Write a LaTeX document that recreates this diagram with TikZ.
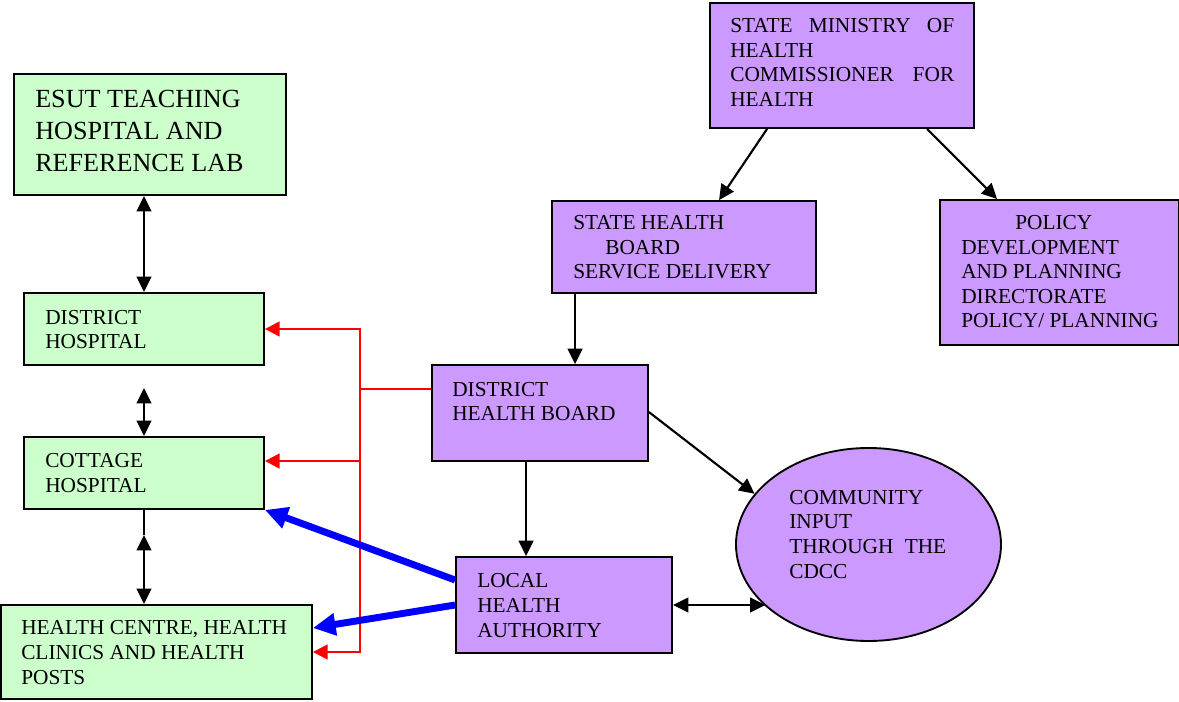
\documentclass[tikz,border=0pt]{standalone}
\usepackage{fontspec}
\setmainfont{Liberation Serif}
\usetikzlibrary{arrows.meta,shapes.geometric,calc}
\definecolor{boxgreen}{HTML}{CCFFCC}
\definecolor{boxpurple}{HTML}{CC99FF}
\definecolor{redline}{HTML}{FF0000}
\definecolor{blueline}{HTML}{0000FF}
\begin{document}
\begin{tikzpicture}[x=0.75pt,y=-0.75pt,
  boxbase/.style={draw=black,line width=1.4pt,rectangle,inner sep=0pt},
  gbox/.style={boxbase,fill=boxgreen},
  pbox/.style={boxbase,fill=boxpurple},
  txt/.style={anchor=base west,inner sep=0pt,align=left,font=\fontsize{16}{18.45}\selectfont},
  bigtxt/.style={anchor=base west,inner sep=0pt,align=left,font=\fontsize{19.6}{24}\selectfont},
  blk/.style={line width=1.6pt,draw=black},
  blkarrow/.style={blk,-{Triangle[length=11.5pt,width=11pt]}},
  blkboth/.style={blk,{Triangle[length=11.5pt,width=11pt]}-{Triangle[length=11.5pt,width=11pt]}},
  redarrow/.style={line width=1.7pt,draw=redline,-{Triangle[length=11pt,width=11pt]}},
  redplain/.style={line width=1.7pt,draw=redline},
  bluearrow/.style={line width=5.2pt,draw=blueline,-{Triangle[length=17pt,width=16pt]}}
]
\useasboundingbox (0,0) rectangle (1179,702);

% boxes
\node[gbox,minimum width=204pt,minimum height=90.75pt] (esut) at (150,134.5) {};
\node[gbox,minimum width=180pt,minimum height=54pt] (dh) at (144,329) {};
\node[gbox,minimum width=180pt,minimum height=54pt] (cot) at (144,473) {};
\node[gbox,minimum width=233.25pt,minimum height=70.5pt] (hc) at (156.5,652) {};
\node[pbox,minimum width=198pt,minimum height=93.75pt] (smoh) at (842,65.5) {};
\node[pbox,minimum width=198pt,minimum height=69pt] (shb) at (684,247) {};
\node[pbox,minimum width=178.9pt,minimum height=108.75pt] (pol) at (1059.25,272.5) {};
\node[pbox,minimum width=162pt,minimum height=72pt] (dhb) at (540,413) {};
\node[pbox,minimum width=162pt,minimum height=72pt] (lha) at (564,605) {};
\node[draw=black,line width=1.4pt,fill=boxpurple,ellipse,inner sep=0pt,minimum width=198.75pt,minimum height=144.75pt] (ell) at (868.5,544.5) {};

% texts (anchored at the baseline of their last line)
\node[bigtxt] (tesut) at (35,172) {ESUT TEACHING\\HOSPITAL AND\\REFERENCE LAB};
\node[txt] (tdh) at (45,349) {DISTRICT\\HOSPITAL};
\node[txt] (tcot) at (45,492) {COTTAGE\\HOSPITAL};
\node[txt] (thc) at (21,684) {HEALTH CENTRE, HEALTH\\CLINICS AND HEALTH\\POSTS};
\node[txt] (tsmoh) at (730,106.5) {\makebox[168pt][s]{STATE MINISTRY OF}\\HEALTH\\\makebox[168pt][s]{COMMISSIONER FOR}\\HEALTH};
\node[txt] (tshb) at (573,279) {STATE HEALTH\\\hspace*{24pt}BOARD\\SERVICE DELIVERY};
\node[txt] (tpol) at (961,328) {\hspace*{40.5pt}POLICY\\DEVELOPMENT\\AND PLANNING\\DIRECTORATE\\POLICY/ PLANNING};
\node[txt] (tdhb) at (452,421) {DISTRICT\\HEALTH BOARD};
\node[txt] (tlha) at (477,637) {LOCAL\\HEALTH\\AUTHORITY};
\node[txt] (tell) at (789,578) {COMMUNITY\\INPUT\\\makebox[117.75pt][s]{THROUGH THE}\\CDCC};

% helper coordinates
\coordinate (dc) at (144,388);
\coordinate (cc) at (144,535);
\coordinate (rj) at (360,389);
\coordinate (rc) at (360,461);
\coordinate (b1) at (456,580);
\coordinate (b2) at (456,605);
\coordinate (b3) at (312,628);

% black connectors
\draw[blkboth] (esut.south -| dh.north) -- (dh.north);
\draw[blkboth] (dc) -- (cot.north);
\draw[blk] (cot.south) -- (cc);
\draw[blkboth] (cc) -- (cot.south |- hc.north);
\draw[blkarrow] ($(smoh.south west)+(58,0)$) -- ($(shb.north west)+(168,0)$);
\draw[blkarrow] ($(smoh.south west)+(218,0)$) -- ($(pol.north west)+(58,0)$);
\draw[blkarrow] ($(shb.south west)+(24,0)$) -- ($(dhb.north west)+(144,0)$);
\draw[blkarrow] ($(dhb.south west)+(95,0)$) -- ($(lha.north west)+(71,0)$);
\draw[blkarrow] ($(dhb.north east)+(0,48)$) -- (ell.156);
\draw[blkboth] (lha.east) -- (lha.east -| ell.211);

% red connectors
\draw[redplain] (dhb.west |- rj) -- (rj);
\draw[redarrow] (rj) |- (dh.east);
\draw[redarrow] (rj) |- (hc.east);
\draw[redarrow] (rc) -- (cot.east |- rc);

% blue connectors
\draw[bluearrow] (lha.west |- b1) -- (cot.south east);
\draw[bluearrow] (lha.west |- b2) -- (hc.east |- b3);
\end{tikzpicture}
\end{document}
